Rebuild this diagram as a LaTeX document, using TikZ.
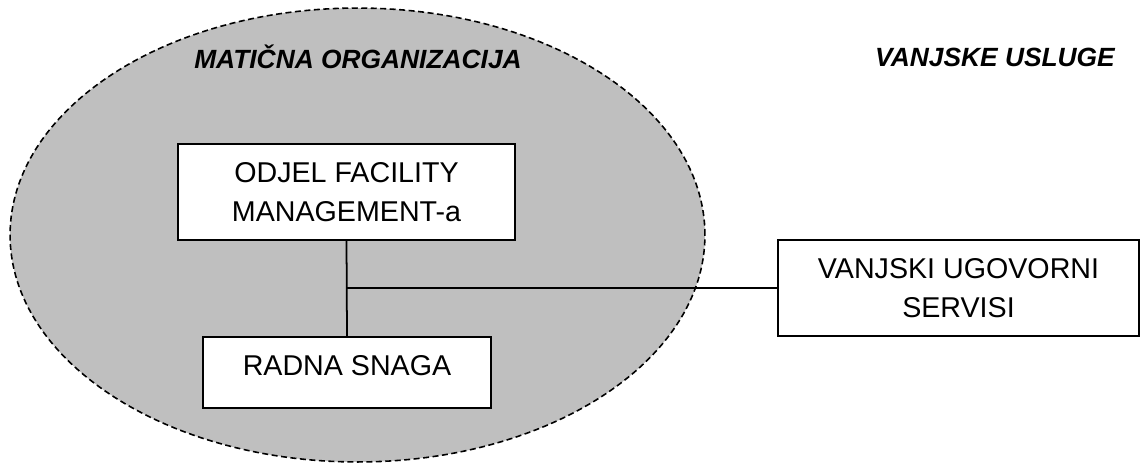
\documentclass[tikz,border=0pt]{standalone}
\usepackage{fontspec}
\setmainfont{Liberation Sans}
\usetikzlibrary{positioning}
\tikzset{
    unitbox/.style={draw, fill=white, line width=1pt, align=center, inner sep=0pt,
        font=\fontsize{16.3}{22.2}\selectfont},
    areatitle/.style={font=\fontsize{15}{18}\selectfont\bfseries\itshape},
}
\begin{document}
\begin{tikzpicture}[
    x=0.02cm, y=-0.02cm,
    parent area/.style={draw, fill=black!25, line width=0.9pt, dash pattern=on 0.12cm off 0.07cm},
    link/.style={line width=1pt}
    ]
    \useasboundingbox (0,0) rectangle (1141,463);

    % parent organisation
    \draw[parent area] (357.5,235) ellipse [x radius=6.95cm, y radius=4.54cm];
    \node[areatitle] (maticna) at (358,57) {MATIČNA ORGANIZACIJA};
    \node[areatitle] (vanjske) at (995,57) {VANJSKE USLUGE};

    \node[unitbox, minimum width=6.74cm, minimum height=1.92cm] (odjel) at (346.5,192)
        {ODJEL FACILITY\\MANAGEMENT-a};
    \node[unitbox, minimum width=5.76cm, minimum height=1.42cm, text depth=0.3cm] (radna) at (347,372.5)
        {RADNA SNAGA};
    \node[unitbox, minimum width=7.22cm, minimum height=1.92cm] (servisi) at (958.5,288)
        {VANJSKI UGOVORNI\\SERVISI};

    \coordinate (spoj) at (odjel.south |- servisi.west);
    \draw[link] (odjel.south) -- (radna.north);
    \draw[link] (spoj) -- (servisi.west);
\end{tikzpicture}
\end{document}
